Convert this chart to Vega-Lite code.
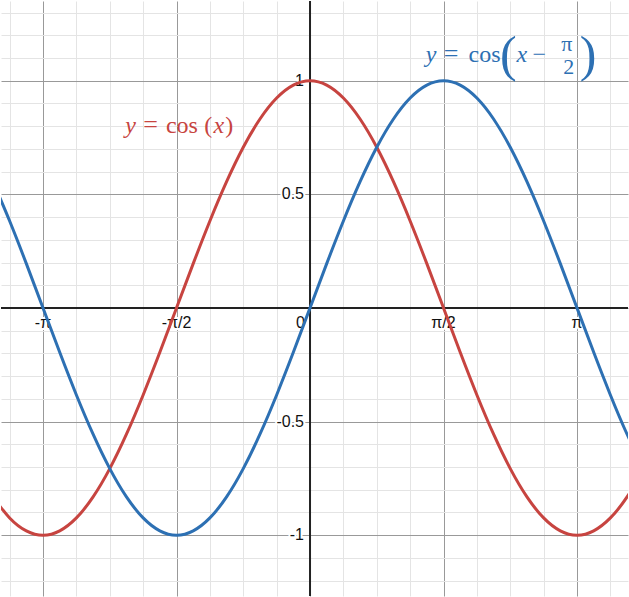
{
  "$schema": "https://vega.github.io/schema/vega-lite/v6.json",
  "width": 629,
  "height": 597,
  "padding": 0,
  "autosize": {"type": "fit", "contains": "padding"},
  "background": "white",
  "config": {"view": {"stroke": null}},
  "data": {"values": [{}]},
  "resolve": {"axis": {"x": "independent", "y": "independent"}},
  "datasets": {
    "curves": [
      {"x": -3.7306, "y": -0.8315, "f": "cos(x)"},
      {"x": -3.5343, "y": -0.9239, "f": "cos(x)"},
      {"x": -3.3379, "y": -0.9808, "f": "cos(x)"},
      {"x": -3.1416, "y": -1, "f": "cos(x)"},
      {"x": -2.9452, "y": -0.9808, "f": "cos(x)"},
      {"x": -2.7489, "y": -0.9239, "f": "cos(x)"},
      {"x": -2.5525, "y": -0.8315, "f": "cos(x)"},
      {"x": -2.3562, "y": -0.7071, "f": "cos(x)"},
      {"x": -2.1598, "y": -0.5556, "f": "cos(x)"},
      {"x": -1.9635, "y": -0.3827, "f": "cos(x)"},
      {"x": -1.7671, "y": -0.1951, "f": "cos(x)"},
      {"x": -1.5708, "y": 0, "f": "cos(x)"},
      {"x": -1.3744, "y": 0.1951, "f": "cos(x)"},
      {"x": -1.1781, "y": 0.3827, "f": "cos(x)"},
      {"x": -0.9817, "y": 0.5556, "f": "cos(x)"},
      {"x": -0.7854, "y": 0.7071, "f": "cos(x)"},
      {"x": -0.589, "y": 0.8315, "f": "cos(x)"},
      {"x": -0.3927, "y": 0.9239, "f": "cos(x)"},
      {"x": -0.1963, "y": 0.9808, "f": "cos(x)"},
      {"x": 0, "y": 1, "f": "cos(x)"},
      {"x": 0.1963, "y": 0.9808, "f": "cos(x)"},
      {"x": 0.3927, "y": 0.9239, "f": "cos(x)"},
      {"x": 0.589, "y": 0.8315, "f": "cos(x)"},
      {"x": 0.7854, "y": 0.7071, "f": "cos(x)"},
      {"x": 0.9817, "y": 0.5556, "f": "cos(x)"},
      {"x": 1.1781, "y": 0.3827, "f": "cos(x)"},
      {"x": 1.3744, "y": 0.1951, "f": "cos(x)"},
      {"x": 1.5708, "y": 0, "f": "cos(x)"},
      {"x": 1.7671, "y": -0.1951, "f": "cos(x)"},
      {"x": 1.9635, "y": -0.3827, "f": "cos(x)"},
      {"x": 2.1598, "y": -0.5556, "f": "cos(x)"},
      {"x": 2.3562, "y": -0.7071, "f": "cos(x)"},
      {"x": 2.5525, "y": -0.8315, "f": "cos(x)"},
      {"x": 2.7489, "y": -0.9239, "f": "cos(x)"},
      {"x": 2.9452, "y": -0.9808, "f": "cos(x)"},
      {"x": 3.1416, "y": -1, "f": "cos(x)"},
      {"x": 3.3379, "y": -0.9808, "f": "cos(x)"},
      {"x": 3.5343, "y": -0.9239, "f": "cos(x)"},
      {"x": 3.7306, "y": -0.8315, "f": "cos(x)"},
      {"x": 3.927, "y": -0.7071, "f": "cos(x)"},
      {"x": -3.7306, "y": 0.5556, "f": "cos(x-π/2)"},
      {"x": -3.5343, "y": 0.3827, "f": "cos(x-π/2)"},
      {"x": -3.3379, "y": 0.1951, "f": "cos(x-π/2)"},
      {"x": -3.1416, "y": 0, "f": "cos(x-π/2)"},
      {"x": -2.9452, "y": -0.1951, "f": "cos(x-π/2)"},
      {"x": -2.7489, "y": -0.3827, "f": "cos(x-π/2)"},
      {"x": -2.5525, "y": -0.5556, "f": "cos(x-π/2)"},
      {"x": -2.3562, "y": -0.7071, "f": "cos(x-π/2)"},
      {"x": -2.1598, "y": -0.8315, "f": "cos(x-π/2)"},
      {"x": -1.9635, "y": -0.9239, "f": "cos(x-π/2)"},
      {"x": -1.7671, "y": -0.9808, "f": "cos(x-π/2)"},
      {"x": -1.5708, "y": -1, "f": "cos(x-π/2)"},
      {"x": -1.3744, "y": -0.9808, "f": "cos(x-π/2)"},
      {"x": -1.1781, "y": -0.9239, "f": "cos(x-π/2)"},
      {"x": -0.9817, "y": -0.8315, "f": "cos(x-π/2)"},
      {"x": -0.7854, "y": -0.7071, "f": "cos(x-π/2)"},
      {"x": -0.589, "y": -0.5556, "f": "cos(x-π/2)"},
      {"x": -0.3927, "y": -0.3827, "f": "cos(x-π/2)"},
      {"x": -0.1963, "y": -0.1951, "f": "cos(x-π/2)"},
      {"x": 0, "y": 0, "f": "cos(x-π/2)"},
      {"x": 0.1963, "y": 0.1951, "f": "cos(x-π/2)"},
      {"x": 0.3927, "y": 0.3827, "f": "cos(x-π/2)"},
      {"x": 0.589, "y": 0.5556, "f": "cos(x-π/2)"},
      {"x": 0.7854, "y": 0.7071, "f": "cos(x-π/2)"},
      {"x": 0.9817, "y": 0.8315, "f": "cos(x-π/2)"},
      {"x": 1.1781, "y": 0.9239, "f": "cos(x-π/2)"},
      {"x": 1.3744, "y": 0.9808, "f": "cos(x-π/2)"},
      {"x": 1.5708, "y": 1, "f": "cos(x-π/2)"},
      {"x": 1.7671, "y": 0.9808, "f": "cos(x-π/2)"},
      {"x": 1.9635, "y": 0.9239, "f": "cos(x-π/2)"},
      {"x": 2.1598, "y": 0.8315, "f": "cos(x-π/2)"},
      {"x": 2.3562, "y": 0.7071, "f": "cos(x-π/2)"},
      {"x": 2.5525, "y": 0.5556, "f": "cos(x-π/2)"},
      {"x": 2.7489, "y": 0.3827, "f": "cos(x-π/2)"},
      {"x": 2.9452, "y": 0.1951, "f": "cos(x-π/2)"},
      {"x": 3.1416, "y": 0, "f": "cos(x-π/2)"},
      {"x": 3.3379, "y": -0.1951, "f": "cos(x-π/2)"},
      {"x": 3.5343, "y": -0.3827, "f": "cos(x-π/2)"},
      {"x": 3.7306, "y": -0.5556, "f": "cos(x-π/2)"},
      {"x": 3.927, "y": -0.7071, "f": "cos(x-π/2)"}
    ],
    "xlabels": [
      {"v": -3.1416, "t": "-π"},
      {"v": -1.5708, "t": "-π/2"},
      {"v": 1.5708, "t": "π/2"},
      {"v": 3.1416, "t": "π"}
    ],
    "ylabels": [
      {"v": 1, "t": "1"},
      {"v": 0.5, "t": "0.5"},
      {"v": -0.5, "t": "-0.5"},
      {"v": -1, "t": "-1"}
    ]
  },
  "layer": [
    {
      "mark": {"type": "rule", "color": "#222222", "strokeWidth": 2},
      "encoding": {
        "y": {
          "datum": 0, "type": "quantitative", "title": null,
          "scale": {"domain": [-1.2675, 1.3509], "nice": false, "zero": false},
          "axis": {
            "orient": "left",
            "values": [-1.2, -1.1, -0.9, -0.8, -0.7, -0.6, -0.4, -0.3, -0.2, -0.1, 0.1, 0.2, 0.3, 0.4, 0.6, 0.7, 0.8, 0.9, 1.1, 1.2, 1.3],
            "labels": false, "ticks": false, "domain": false, "title": null, "grid": true, "gridWidth": 1, "gridColor": "#e4e4e4", "gridOpacity": 1
          }
        }
      }
    },
    {
      "mark": {"type": "rule", "color": "#222222", "strokeWidth": 2},
      "encoding": {
        "x": {
          "datum": 0, "type": "quantitative", "title": null,
          "scale": {"domain": [-3.636, 3.7415], "nice": false, "zero": false},
          "axis": {
            "orient": "bottom",
            "values": [-3.5343, -2.7489, -2.3562, -1.9635, -1.1781, -0.7854, -0.3927, 0.3927, 0.7854, 1.1781, 1.9635, 2.3562, 2.7489, 3.5343],
            "labels": false, "ticks": false, "domain": false, "title": null, "grid": true, "gridWidth": 1, "gridColor": "#e4e4e4", "gridOpacity": 1
          }
        }
      }
    },
    {
      "data": {"name": "xlabels"},
      "mark": {"type": "text", "font": "Liberation Sans", "fontSize": 16, "align": "center", "baseline": "middle", "dy": 15, "fill": "white", "stroke": "white", "strokeWidth": 4, "strokeJoin": "round"},
      "encoding": {
        "x": {
          "field": "v", "type": "quantitative", "title": null,
          "axis": {
            "orient": "top",
            "values": [-3.1416, -1.5708, 0, 1.5708, 3.1416],
            "labels": false, "ticks": false, "domain": false, "title": null, "grid": true, "gridWidth": 1, "gridColor": "#999999", "gridOpacity": 1
          }
        },
        "y": {"datum": 0, "type": "quantitative", "title": null, "axis": null},
        "text": {"field": "t"}
      }
    },
    {
      "data": {"name": "ylabels"},
      "mark": {"type": "text", "font": "Liberation Sans", "fontSize": 16, "align": "right", "baseline": "middle", "dx": -6, "fill": "white", "stroke": "white", "strokeWidth": 4, "strokeJoin": "round"},
      "encoding": {
        "y": {
          "field": "v", "type": "quantitative", "title": null,
          "axis": {
            "orient": "right",
            "values": [-1, -0.5, 0, 0.5, 1],
            "labels": false, "ticks": false, "domain": false, "title": null, "grid": true, "gridWidth": 1, "gridColor": "#999999", "gridOpacity": 1
          }
        },
        "x": {"datum": 0, "type": "quantitative", "title": null, "axis": null},
        "text": {"field": "t"}
      }
    },
    {
      "data": {"name": "xlabels"},
      "mark": {"type": "text", "font": "Liberation Sans", "fontSize": 16, "align": "center", "baseline": "middle", "dy": 15, "fill": "#111111"},
      "encoding": {
        "x": {"field": "v", "type": "quantitative", "title": null, "axis": null},
        "y": {"datum": 0, "type": "quantitative", "title": null, "axis": null},
        "text": {"field": "t"}
      }
    },
    {
      "data": {"name": "ylabels"},
      "mark": {"type": "text", "font": "Liberation Sans", "fontSize": 16, "align": "right", "baseline": "middle", "dx": -6, "fill": "#111111"},
      "encoding": {
        "y": {"field": "v", "type": "quantitative", "title": null, "axis": null},
        "x": {"datum": 0, "type": "quantitative", "title": null, "axis": null},
        "text": {"field": "t"}
      }
    },
    {
      "mark": {"type": "text", "text": "0", "font": "Liberation Sans", "fontSize": 16, "align": "right", "baseline": "middle", "dx": -5, "dy": 15, "fill": "#111111"},
      "encoding": {
        "x": {"datum": 0, "type": "quantitative", "title": null, "axis": null},
        "y": {"datum": 0, "type": "quantitative", "title": null, "axis": null}
      }
    },
    {
      "data": {"name": "curves"},
      "mark": {"type": "line", "strokeWidth": 3, "interpolate": "natural", "clip": true},
      "encoding": {
        "x": {"field": "x", "type": "quantitative", "title": null, "axis": null},
        "y": {"field": "y", "type": "quantitative", "title": null, "axis": null},
        "color": {"field": "f", "type": "nominal", "scale": {"domain": ["cos(x)", "cos(x-π/2)"], "range": ["#c74440", "#2d70b3"]}, "legend": null}
      }
    },
    {"mark": {"type": "text", "text": "y", "font": "Liberation Serif", "fontStyle": "italic", "fontSize": 24, "align": "center", "baseline": "alphabetic", "fill": "#c74440"},
     "encoding": {"x": {"datum": -2.111, "type": "quantitative", "axis": null}, "y": {"datum": 0.7719, "type": "quantitative", "axis": null}}},
    {"mark": {"type": "text", "text": "=", "font": "Liberation Serif", "fontSize": 26, "align": "center", "baseline": "alphabetic", "fill": "#c74440"},
     "encoding": {"x": {"datum": -1.877, "type": "quantitative", "axis": null}, "y": {"datum": 0.7719, "type": "quantitative", "axis": null}}},
    {"mark": {"type": "text", "text": "cos", "font": "Liberation Serif", "fontSize": 24, "align": "center", "baseline": "alphabetic", "fill": "#c74440"},
     "encoding": {"x": {"datum": -1.507, "type": "quantitative", "axis": null}, "y": {"datum": 0.7719, "type": "quantitative", "axis": null}}},
    {"mark": {"type": "text", "text": "(", "font": "Liberation Serif", "fontSize": 24, "align": "center", "baseline": "alphabetic", "fill": "#c74440"},
     "encoding": {"x": {"datum": -1.196, "type": "quantitative", "axis": null}, "y": {"datum": 0.7719, "type": "quantitative", "axis": null}}},
    {"mark": {"type": "text", "text": "x", "font": "Liberation Serif", "fontStyle": "italic", "fontSize": 24, "align": "center", "baseline": "alphabetic", "fill": "#c74440"},
     "encoding": {"x": {"datum": -1.073, "type": "quantitative", "axis": null}, "y": {"datum": 0.7719, "type": "quantitative", "axis": null}}},
    {"mark": {"type": "text", "text": ")", "font": "Liberation Serif", "fontSize": 24, "align": "center", "baseline": "alphabetic", "fill": "#c74440"},
     "encoding": {"x": {"datum": -0.95, "type": "quantitative", "axis": null}, "y": {"datum": 0.7719, "type": "quantitative", "axis": null}}},
    {"mark": {"type": "text", "text": "y", "font": "Liberation Serif", "fontStyle": "italic", "fontSize": 24, "align": "center", "baseline": "alphabetic", "fill": "#2d70b3"},
     "encoding": {"x": {"datum": 1.425, "type": "quantitative", "axis": null}, "y": {"datum": 1.0833, "type": "quantitative", "axis": null}}},
    {"mark": {"type": "text", "text": "=", "font": "Liberation Serif", "fontSize": 26, "align": "center", "baseline": "alphabetic", "fill": "#2d70b3"},
     "encoding": {"x": {"datum": 1.66, "type": "quantitative", "axis": null}, "y": {"datum": 1.0833, "type": "quantitative", "axis": null}}},
    {"mark": {"type": "text", "text": "cos", "font": "Liberation Serif", "fontSize": 24, "align": "center", "baseline": "alphabetic", "fill": "#2d70b3"},
     "encoding": {"x": {"datum": 2.053, "type": "quantitative", "axis": null}, "y": {"datum": 1.0833, "type": "quantitative", "axis": null}}},
    {"mark": {"type": "text", "text": "(", "font": "Liberation Serif", "fontSize": 50, "align": "center", "baseline": "alphabetic", "fill": "#2d70b3"},
     "encoding": {"x": {"datum": 2.334, "type": "quantitative", "axis": null}, "y": {"datum": 1.045, "type": "quantitative", "axis": null}}},
    {"mark": {"type": "text", "text": "x", "font": "Liberation Serif", "fontStyle": "italic", "fontSize": 24, "align": "center", "baseline": "alphabetic", "fill": "#2d70b3"},
     "encoding": {"x": {"datum": 2.492, "type": "quantitative", "axis": null}, "y": {"datum": 1.0833, "type": "quantitative", "axis": null}}},
    {"mark": {"type": "text", "text": "−", "font": "Liberation Serif", "fontSize": 24, "align": "center", "baseline": "alphabetic", "fill": "#2d70b3"},
     "encoding": {"x": {"datum": 2.698, "type": "quantitative", "axis": null}, "y": {"datum": 1.0833, "type": "quantitative", "axis": null}}},
    {"mark": {"type": "text", "text": "π", "font": "Liberation Serif", "fontSize": 22, "align": "center", "baseline": "alphabetic", "fill": "#2d70b3"},
     "encoding": {"x": {"datum": 3.02, "type": "quantitative", "axis": null}, "y": {"datum": 1.1316, "type": "quantitative", "axis": null}}},
    {"mark": {"type": "text", "text": "2", "font": "Liberation Serif", "fontSize": 22, "align": "center", "baseline": "alphabetic", "fill": "#2d70b3"},
     "encoding": {"x": {"datum": 3.044, "type": "quantitative", "axis": null}, "y": {"datum": 1.0307, "type": "quantitative", "axis": null}}},
    {"mark": {"type": "text", "text": ")", "font": "Liberation Serif", "fontSize": 50, "align": "center", "baseline": "alphabetic", "fill": "#2d70b3"},
     "encoding": {"x": {"datum": 3.272, "type": "quantitative", "axis": null}, "y": {"datum": 1.045, "type": "quantitative", "axis": null}}}
  ]
}
